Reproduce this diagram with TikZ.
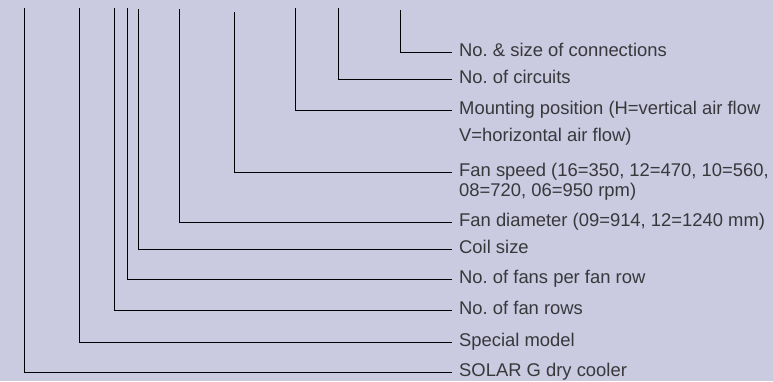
\documentclass[tikz,border=0pt]{standalone}
\usepackage{fontspec}
\setmainfont{Liberation Sans}
\usetikzlibrary{positioning}
\frenchspacing

\definecolor{bgcol}{RGB}{202,202,224}
\definecolor{txtcol}{RGB}{56,56,60}

\begin{document}
\begin{tikzpicture}[x=1pt, y=-1pt,
    lbl/.style={anchor=west, inner xsep=7pt, inner ysep=0pt, text height=13pt, text depth=4pt,
                font=\fontsize{18.4}{20}\selectfont, text=txtcol},
    lead/.style={draw=black, line width=0.9pt}]
                    \useasboundingbox (0,0) rectangle (773,381);
                    \fill[bgcol] (0,0) rectangle (773,381);
                    % code digits: x of the drop, top of the drop, y of the label
                    \foreach \n/\x/\t/\y/\txt in {conn/400/10/52/{No. \& size of connections},
                        circ/338/8/79/{No. of circuits},
                        mount/295/8/110/{Mounting position (H=vertical air flow},
                        speed/234/12/172/{Fan speed (16=350, 12=470, 10=560,},
                        diam/179/9/222/{Fan diameter (09=914, 12=1240 mm)},
                        coil/138/9/249/{Coil size},
                        fans/127/8/279/{No. of fans per fan row},
                        rows/114/8/310/{No. of fan rows},
                        special/79/8/342/{Special model},
                        solar/24/8/372/{SOLAR G dry cooler}}
                    {
                        \coordinate (top-\n) at (\x,\t);
                        \node[lbl] (lbl-\n) at (452,\y) {\txt};
                        \draw[lead] (top-\n) |- (lbl-\n.west);
                    }
                    % second lines
                    \node[lbl] (lbl-mount2) at (452,137) {V=horizontal air flow)};
                    \node[lbl] (lbl-speed2) at (452,192) {08=720, 06=950 rpm)};
                \end{tikzpicture}
\end{document}
